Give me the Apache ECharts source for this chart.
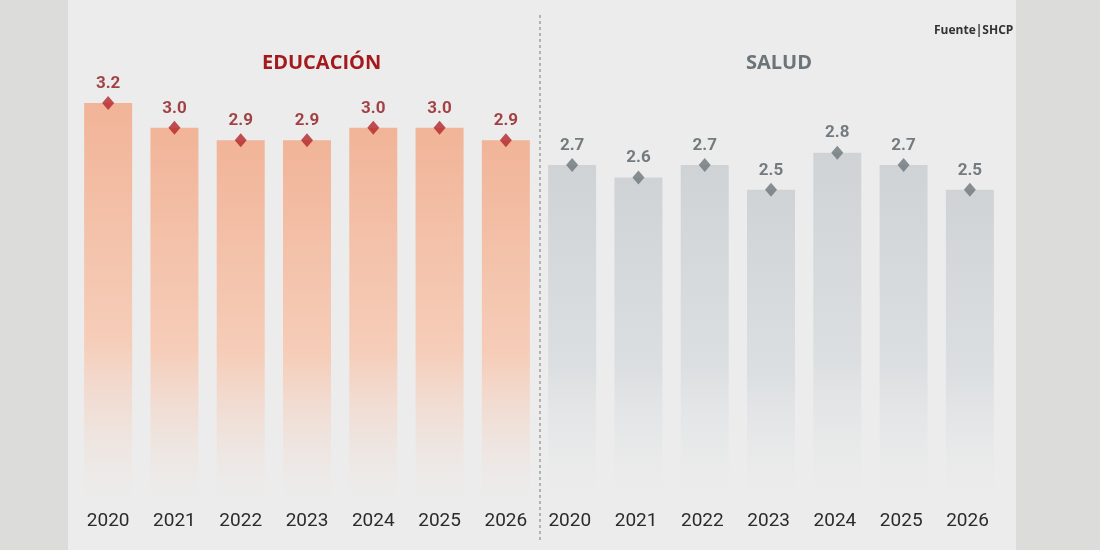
<!DOCTYPE html>
<html><head><meta charset="utf-8">
<script src="https://cdn.jsdelivr.net/npm/echarts@6/dist/echarts.min.js"></script>
<style>html,body{margin:0;background:#d9d9d7}#c{width:1100px;height:550px}</style>
</head><body><div id="c"></div>
<script>
var years = ["2020","2021","2022","2023","2024","2025","2026"];
var educacion = [3.2, 3.0, 2.9, 2.9, 3.0, 3.0, 2.9];
var salud = [2.7, 2.6, 2.7, 2.5, 2.8, 2.7, 2.5];

var cats = years.concat(years.map(function (y) { return y + " "; }));
var eduBars = educacion.concat(salud.map(function () { return null; }));
var salBars = educacion.map(function () { return null; }).concat(salud);

function fade(top, mid) {
  return new echarts.graphic.LinearGradient(0, 0, 0, 1, [
    { offset: 0, color: top }, { offset: 0.6, color: mid }, { offset: 1, color: "rgba(236,236,236,0.4)" }
  ]);
}

var myChart = echarts.init(document.getElementById("c"));
var option = {
  backgroundColor: "#dcdcda",
  graphic: [
    { type: "rect", z: -10, shape: { x: 68, y: 0, width: 948, height: 550 }, style: { fill: "#ececec" } },
    { type: "line", shape: { x1: 540, y1: 15, x2: 540, y2: 540 }, style: { stroke: "#777", lineDash: [3, 3], lineWidth: 1 } },
    { type: "text", left: 262, top: 53, style: { text: "EDUCACIÓN", fill: "#a3191c", font: "bold 20px 'Open Sans', sans-serif" } },
    { type: "text", left: 746, top: 53, style: { text: "SALUD", fill: "#6a7479", font: "bold 20px 'Open Sans', sans-serif" } },
    { type: "text", left: 934, top: 25, style: { text: "Fuente|SHCP", fill: "#333", font: "bold 12px 'Open Sans', sans-serif" } }
  ],
  grid: { left: 75, right: 97, top: 41, bottom: 50 },
  xAxis: {
    type: "category", data: cats,
    axisLine: { show: false }, axisTick: { show: false },
    axisLabel: { color: "#2b2b2b", fontSize: 19, margin: 12, fontFamily: "Roboto" }
  },
  yAxis: { type: "value", min: 0, max: 3.7, show: false, splitLine: { show: false } },
  series: [
    { type: "bar", stack: "a", data: eduBars, barWidth: 48, itemStyle: { color: fade("#f1b498", "#f6cdb9") } },
    { type: "bar", stack: "a", data: salBars, barWidth: 48, itemStyle: { color: fade("#cfd3d6", "#dcdfe1") } },
    {
      type: "scatter", data: eduBars, symbol: "diamond", symbolSize: [12, 14],
      itemStyle: { color: "#b3252a" },
      label: { show: true, position: "top", distance: 4, formatter: function (p) { return p.value.toFixed(1); }, color: "#8f171a", fontSize: 17, fontWeight: "bold", fontFamily: "Roboto" }
    },
    {
      type: "scatter", data: salBars, symbol: "diamond", symbolSize: [12, 14],
      itemStyle: { color: "#6d777c" },
      label: { show: true, position: "top", distance: 4, formatter: function (p) { return p.value.toFixed(1); }, color: "#555f64", fontSize: 17, fontWeight: "bold", fontFamily: "Roboto" }
    }
  ]
};
myChart.setOption(option);
</script></body></html>
